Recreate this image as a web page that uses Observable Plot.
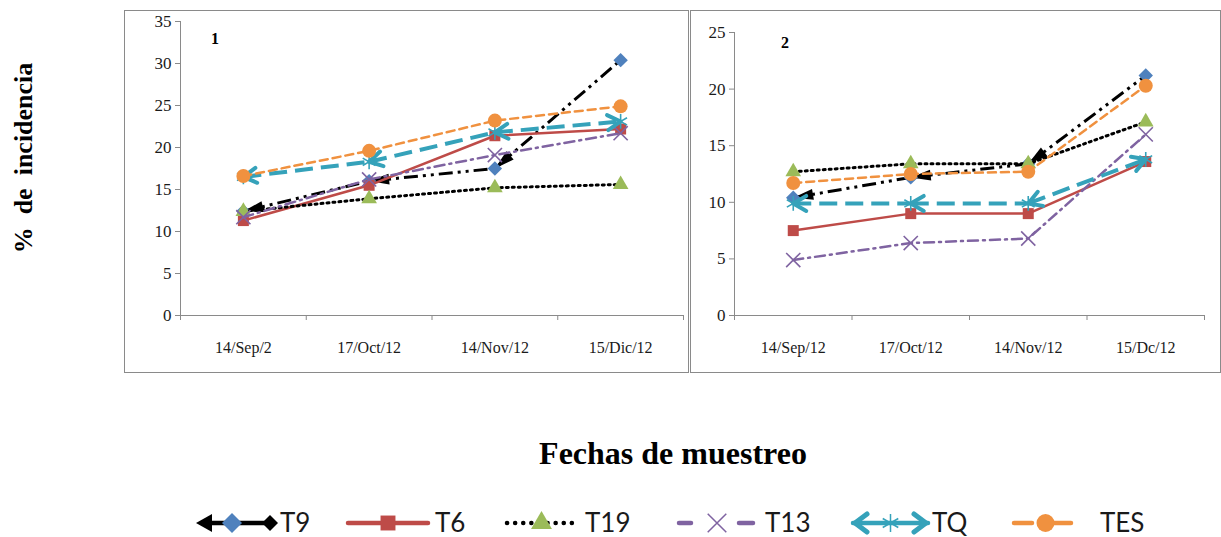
<!DOCTYPE html>
<html><head><meta charset="utf-8">
<script src="https://cdn.jsdelivr.net/npm/d3@7"></script>
<script src="https://cdn.jsdelivr.net/npm/@observablehq/plot@0.6"></script>
<style>
html,body{margin:0;padding:0;background:#fff;}
#page{position:relative;width:1221px;height:537px;overflow:hidden;background:#fff;}
.frame{position:absolute;border:1px solid #8a8a8a;box-sizing:border-box;}
.serifb{position:absolute;font-family:"Liberation Serif","Times New Roman",serif;font-weight:bold;color:#000;white-space:pre;line-height:1.25;}
.legtext{position:absolute;font-family:Lato,"Open Sans",sans-serif;font-size:26px;color:#1a1a1a;line-height:1.3;transform:translateY(-50%);white-space:pre;}
</style></head>
<body><div id="page"></div>
<script>
// ---------- data ----------
const series = ["T9", "T6", "T19", "T13", "TQ", "TES"];
const dates1 = ["14/Sep/2", "17/Oct/12", "14/Nov/12", "15/Dic/12"];
const dates2 = ["14/Sep/12", "17/Oct/12", "14/Nov/12", "15/Dc/12"];
const yTicks1 = [0, 5, 10, 15, 20, 25, 30, 35];
const yTicks2 = [0, 5, 10, 15, 20, 25];

const p1_T9  = [12.4, 16.0, 17.5, 30.4];
const p1_T6  = [11.3, 15.5, 21.4, 22.2];
const p1_T19 = [12.4, 13.9, 15.2, 15.6];
const p1_T13 = [11.7, 16.2, 19.1, 21.7];
const p1_TQ  = [16.5, 18.3, 21.8, 23.1];
const p1_TES = [16.6, 19.6, 23.2, 24.9];

const p2_T9  = [10.4, 12.2, 13.4, 21.2];
const p2_T6  = [7.5, 9.0, 9.0, 13.6];
const p2_T19 = [12.7, 13.4, 13.4, 17.1];
const p2_T13 = [4.9, 6.4, 6.8, 16.0];
const p2_TQ  = [9.9, 9.9, 9.9, 13.8];
const p2_TES = [11.7, 12.5, 12.7, 20.3];

const panel1Values = [p1_T9, p1_T6, p1_T19, p1_T13, p1_TQ, p1_TES];
const panel2Values = [p2_T9, p2_T6, p2_T19, p2_T13, p2_TQ, p2_TES];

// ---------- styles ----------
const styles = {
  T9:  {stroke: "#000000", dash: "14,5,3,5,3,5", width: 3, symbol: "diamond2", color: "#4F81BD", r: 6.5, filled: true, arrows: "tri"},
  T6:  {stroke: "#BE4B48", dash: null, width: 2.5, symbol: "square2", color: "#BE4B48", r: 7, filled: true},
  T19: {stroke: "#000000", dash: "2,4", width: 3, symbol: "triangle2", color: "#9BBB59", r: 7.5, filled: true},
  T13: {stroke: "#7F63A1", dash: "10,5,2,5", width: 2.5, symbol: "times", color: "#7F63A1", r: 6.5, filled: false},
  TQ:  {stroke: "#35A2BA", dash: "18,8", width: 4, symbol: "asterisk", color: "#35A2BA", r: 7, filled: false, arrows: "open"},
  TES: {stroke: "#F0913F", dash: "8,5", width: 2.5, symbol: "circle", color: "#F0913F", r: 7, filled: true}
};

function triMarker(color) {
  const m = d3.create("svg:marker")
    .attr("viewBox", "-22 -7 24 14").attr("markerWidth", 24).attr("markerHeight", 14)
    .attr("markerUnits", "userSpaceOnUse")
    .attr("orient", "auto-start-reverse").attr("overflow", "visible");
  m.append("path").attr("d", "M0,0L-20,-5.5L-20,5.5Z").attr("fill", color).attr("stroke", "none");
  return m.node();
}
function openMarker(color) {
  const m = d3.create("svg:marker")
    .attr("viewBox", "-16 -10 20 20").attr("markerWidth", 20).attr("markerHeight", 20)
    .attr("markerUnits", "userSpaceOnUse")
    .attr("orient", "auto-start-reverse").attr("overflow", "visible");
  m.append("path").attr("d", "M-13,-7.5L0,0L-13,7.5").attr("fill", "none")
    .attr("stroke", color).attr("stroke-width", 4).attr("stroke-dasharray", "none")
    .attr("stroke-linecap", "round").attr("stroke-linejoin", "round");
  return m.node();
}

function panel(dates, vals, yTicks, dims) {
  const yMax = d3.max(yTicks);
  const marks = [
    Plot.ruleY([0], {stroke: "#8a8a8a"}),
    Plot.ruleX([0], {stroke: "#8a8a8a"}),
    Plot.axisY({ticks: yTicks, tickSize: 5, tickPadding: 4, stroke: "#8a8a8a", fontSize: 17}),
    Plot.axisX({ticks: d3.range(0, dates.length + 1), tickSize: 5, tickFormat: () => "", stroke: "#8a8a8a"}),
    Plot.axisX({ticks: dates.map((d, i) => i + 0.5), tickSize: 0, tickPadding: 26, fontSize: 16,
      tickFormat: (t) => dates[Math.floor(t)]})
  ];
  series.forEach((s, k) => {
    const st = styles[s];
    const pts = vals[k].map((v, i) => ({x: i + 0.5, v}));
    const lineOpts = {stroke: st.stroke, strokeWidth: st.width, strokeDasharray: st.dash || undefined};
    if (st.arrows) {
      const mk = st.arrows === "tri" ? triMarker : openMarker;
      const segs = d3.pairs(pts).map(([a, b], j, arr) => ({x1: a.x, y1: a.v, x2: b.x, y2: b.v, last: j === arr.length - 1}));
      marks.push(Plot.link(segs.filter(d => !d.last), {x1: "x1", y1: "y1", x2: "x2", y2: "y2", ...lineOpts, markerStart: mk}));
      marks.push(Plot.link(segs.filter(d => d.last), {x1: "x1", y1: "y1", x2: "x2", y2: "y2", ...lineOpts, markerStart: mk,
        markerEnd: st.arrows === "open" ? mk : undefined}));
    } else {
      marks.push(Plot.line(pts, {x: "x", y: "v", ...lineOpts}));
    }
    marks.push(Plot.dot(pts, st.filled
      ? {x: "x", y: "v", symbol: st.symbol, r: st.r, fill: st.color, stroke: "none"}
      : {x: "x", y: "v", symbol: st.symbol, r: st.r, fill: "none", stroke: st.color, strokeWidth: 1.6}));
  });
  const svg = Plot.plot({
    width: dims.w, height: dims.h,
    marginLeft: dims.ml, marginRight: dims.mr, marginTop: dims.mt, marginBottom: dims.mb,
    x: {domain: [0, dates.length]},
    y: {domain: [0, yMax]},
    style: {fontFamily: "'Liberation Serif', 'Times New Roman', serif", fontSize: "16px", color: "#1a1a1a", background: "transparent", overflow: "visible"},
    marks
  });
  svg.style.position = "absolute";
  svg.style.left = dims.left + "px";
  svg.style.top = dims.top + "px";
  return svg;
}

const page = document.getElementById("page");

function frame(l, t, w, h) {
  const d = document.createElement("div");
  d.className = "frame";
  Object.assign(d.style, {left: l + "px", top: t + "px", width: w + "px", height: h + "px"});
  page.appendChild(d);
}
frame(124, 10, 565, 363);
frame(690, 10, 531, 363);

page.appendChild(panel(dates1, panel1Values, yTicks1, {left: 124, top: 10, w: 564, h: 362, ml: 56, mr: 5, mt: 11, mb: 57}));
page.appendChild(panel(dates2, panel2Values, yTicks2, {left: 690, top: 10, w: 531, h: 362, ml: 44, mr: 17, mt: 22, mb: 57}));

function label(text, x, y, size, extra) {
  const d = document.createElement("div");
  d.className = "serifb";
  d.textContent = text;
  d.style.fontSize = size + "px";
  d.style.left = x + "px";
  d.style.top = y + "px";
  d.style.transform = "translate(-50%,-50%)" + (extra || "");
  page.appendChild(d);
}
label("1", 215, 39, 16);
label("2", 785, 43, 16);
label("Fechas de muestreo", 673, 453, 32);
label("%  de  incidencia", 24, 158, 26, " rotate(-90deg)");

// ---------- legend ----------
const legendSwatchX = [196, 348, 505, 677, 853, 1012];
const legendSwatchW = [82, 80, 73, 80, 75, 61];
const legendTextX = [280, 435, 585, 765, 932, 1100];
const legendY = 523;

series.forEach((s, k) => {
  const st = styles[s];
  const w = legendSwatchW[k], h = 28;
  const svg = d3.create("svg").attr("width", w).attr("height", h)
    .style("position", "absolute").style("left", legendSwatchX[k] + "px").style("top", (legendY - h / 2) + "px")
    .style("overflow", "visible");
  const cy = h / 2;
  const seg = (x1, x2) => svg.append("line").attr("x1", x1).attr("x2", x2).attr("y1", cy).attr("y2", cy)
    .attr("stroke", st.stroke).attr("stroke-width", 4.5).attr("stroke-linecap", "round");
  if (s === "T19") seg(2, w - 2).attr("stroke-dasharray", "0.1,8");
  else if (s === "T13") { seg(2, 14); seg(w - 18, w - 4); }
  else if (s === "TES") { seg(2, 20); seg(w - 20, w - 2); }
  else seg(s === "T9" ? 8 : 0, s === "T9" ? w - 8 : w);
  const cx = s === "T9" ? 36 : w / 2 + (s === "TES" ? 3 : 0);
  if (s === "T9") {
    svg.append("path").attr("d", `M0,${cy}L16,${cy - 9}L16,${cy + 9}Z`).attr("fill", "#000");
    svg.append("path").attr("d", `M${w - 16},${cy}L${w - 8},${cy - 8}L${w},${cy}L${w - 8},${cy + 8}Z`).attr("fill", "#000");
  }
  if (s === "TQ") {
    svg.append("path").attr("d", `M14,${cy - 9}L2,${cy}L14,${cy + 9}`).attr("fill", "none").attr("stroke", st.stroke).attr("stroke-width", 5).attr("stroke-linejoin", "round").attr("stroke-linecap", "round");
    svg.append("path").attr("d", `M${w - 14},${cy - 9}L${w - 2},${cy}L${w - 14},${cy + 9}`).attr("fill", "none").attr("stroke", st.stroke).attr("stroke-width", 5).attr("stroke-linejoin", "round").attr("stroke-linecap", "round");
  }
  const symSize = {diamond2: 9, square2: 9.5, triangle2: 10, times: 8.5, asterisk: 8.5, circle: 9}[st.symbol];
  const sym = d3.symbol().type({diamond2: d3.symbolDiamond2, square2: d3.symbolSquare2, triangle2: d3.symbolTriangle2,
    times: d3.symbolTimes, asterisk: d3.symbolAsterisk, circle: d3.symbolCircle}[st.symbol]).size(Math.PI * symSize * symSize);
  const g = svg.append("path").attr("d", sym()).attr("transform", `translate(${cx},${cy})`);
  if (st.filled) g.attr("fill", st.color); else g.attr("fill", "none").attr("stroke", st.color).attr("stroke-width", 1.5);
  page.appendChild(svg.node());
  const t = document.createElement("div");
  t.className = "legtext";
  t.textContent = s;
  t.style.left = legendTextX[k] + "px";
  t.style.top = legendY + "px";
  page.appendChild(t);
});
</script>
</body></html>
